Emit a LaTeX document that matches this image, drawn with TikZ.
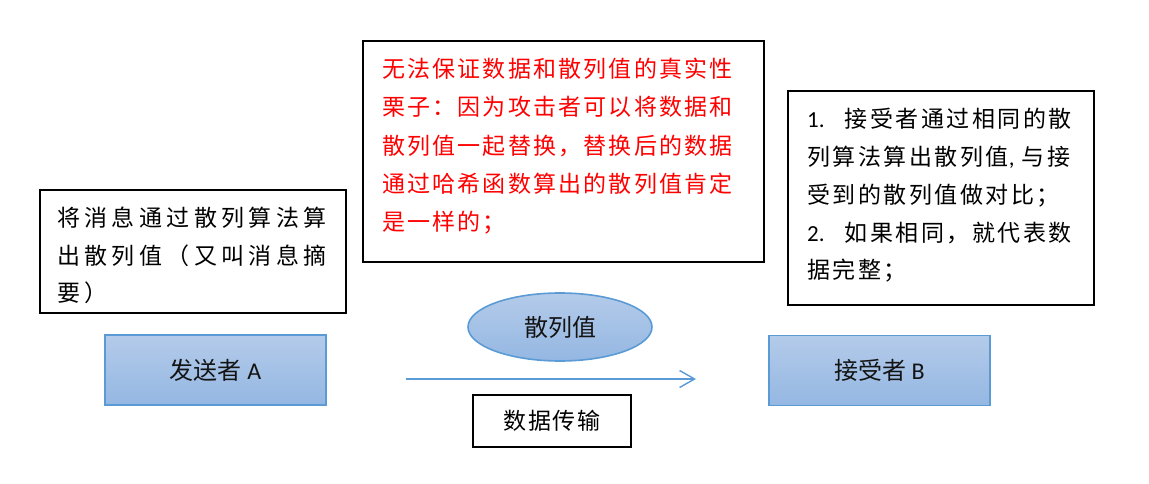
\documentclass[tikz,border=0pt]{standalone}
\usepackage{fontspec}
\setmainfont{Carlito}
\newfontfamily\lat{Carlito}
\newfontfamily\cjkL[LetterSpace=19]{Noto Sans CJK SC}
\newfontfamily\cjkM[LetterSpace=9.5]{Noto Sans CJK SC}
\newfontfamily\cjkR[LetterSpace=11]{Noto Sans CJK SC}
\newfontfamily\cjkT[LetterSpace=6]{Noto Sans CJK SC}
\newfontfamily\cjk{Noto Sans CJK SC}
\usetikzlibrary{arrows.meta,shapes.geometric}
\definecolor{edgeblue}{RGB}{91,155,213}
\definecolor{filltop}{RGB}{180,203,234}
\definecolor{fillbot}{RGB}{148,183,226}
\definecolor{txtred}{RGB}{255,0,0}
\definecolor{dark}{RGB}{20,20,20}
\tikzset{
  tbox/.style={draw=black, line width=1.8pt, inner sep=0, fill=white},
  bluebox/.style={draw=edgeblue, line width=1.6pt, top color=filltop, bottom color=fillbot, inner sep=0, text=dark},
  txt/.style={anchor=north west, inner sep=0, align=left},
  flow/.style={draw=edgeblue, line width=1.4pt, -{Straight Barb[length=15pt,width=17pt,line width=1.4pt]}}
}
\begin{document}
\begin{tikzpicture}[x=1pt,y=-1pt]
\useasboundingbox (0,0) rectangle (1149,484);
% left note
\node[tbox, minimum width=306, minimum height=123] (lnote) at (193,251.5) {};
\node[txt, font=\fontsize{23}{37.5}\selectfont\cjkL] (ltext) at (57,207)
  {将消息通过散列算法算\\出散列值（又叫消息摘\\要）};
% middle note
\node[tbox, minimum width=401, minimum height=221] (mnote) at (563.5,151.5) {};
\node[txt, text=txtred, font=\fontsize{23}{38.3}\selectfont\cjkM] (mtext) at (382,58)
  {无法保证数据和散列值的真实性\\栗子：因为攻击者可以将数据和\\散列值一起替换，替换后的数据\\通过哈希函数算出的散列值肯定\\是一样的；};
% right note
\node[tbox, minimum width=306, minimum height=214] (rnote) at (941,198) {};
\node[txt, font=\fontsize{23}{37.8}\selectfont\cjkR] (rtext) at (807,108)
  {{\lat\fontsize{23}{37.8}\selectfont 1.}\hspace{20pt}接受者通过相同的散\\列算法算出散列值{\lat\fontsize{23}{37.8}\selectfont ,}\hspace{7pt}与接\\受到的散列值做对比；\\{\lat\fontsize{23}{37.8}\selectfont 2.}\hspace{20pt}如果相同，就代表数\\据完整；};
% sender / receiver
\node[bluebox, minimum width=221, minimum height=70, font=\fontsize{24}{28}\selectfont] (sender) at (215.5,370)
  {{\cjk 发送者} A};
\node[bluebox, minimum width=221, minimum height=70, font=\fontsize{24}{28}\selectfont] (receiver) at (879.5,370.5)
  {{\cjk 接受者} B};
% hash ellipse
\node[ellipse, bluebox, minimum width=184, minimum height=68, font=\fontsize{24}{28}\selectfont\cjk] (hash) at (560,327) {散列值};
% transfer arrow
\coordinate (astart) at (406,379);
\coordinate (aend) at (696,379);
\draw[flow] (astart) -- (aend);
% transfer label
\node[tbox, minimum width=158, minimum height=52, font=\fontsize{23}{26}\selectfont\cjkT] (transfer) at (552,421) {数据传输};
\end{tikzpicture}
\end{document}
